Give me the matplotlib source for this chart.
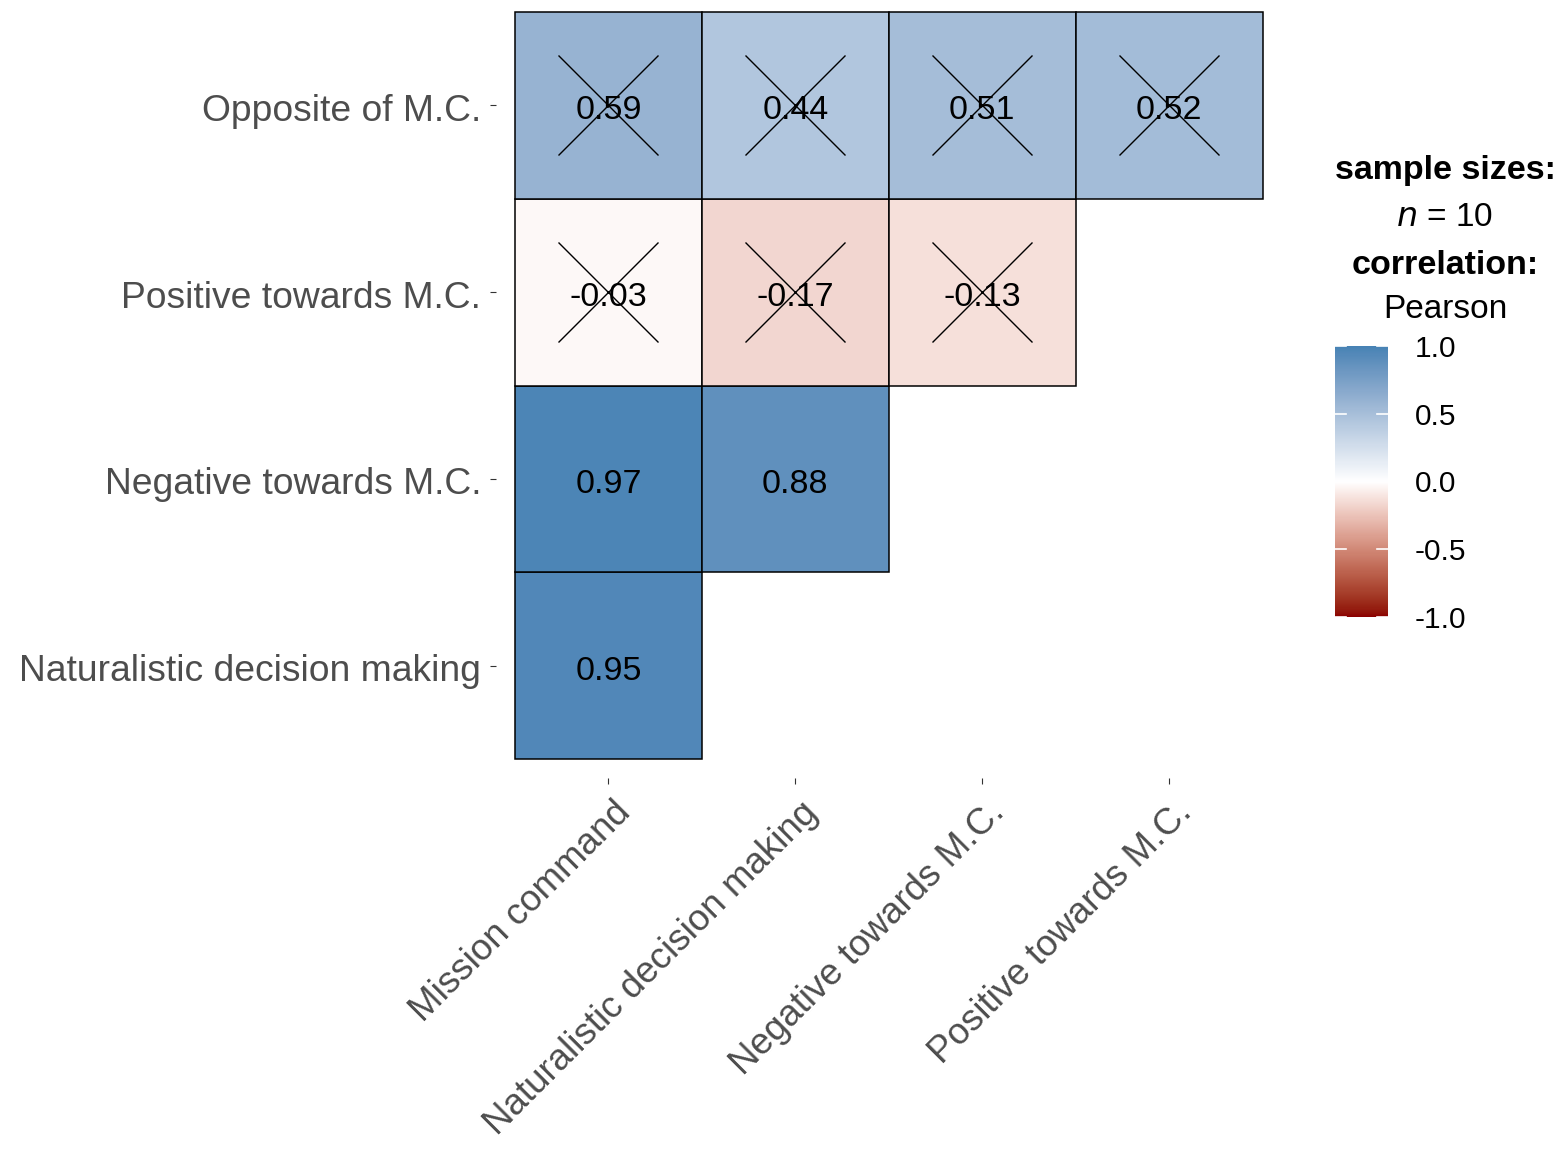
import numpy as np
import matplotlib
matplotlib.use("Agg")
import matplotlib.pyplot as plt
from matplotlib.colors import ListedColormap, Normalize, to_rgb
from matplotlib.patches import Rectangle
from matplotlib.transforms import ScaledTranslation
import matplotlib.colorbar as mcbar

plt.rcParams['font.family'] = ['Liberation Sans', 'DejaVu Sans']

# ---- data ----
x_labels = ["Mission command", "Naturalistic decision making",
            "Negative towards M.C.", "Positive towards M.C."]
y_labels = ["Naturalistic decision making", "Negative towards M.C.",
            "Positive towards M.C.", "Opposite of M.C."]
# rows (bottom->top): values per column
row_ndm = [0.95]
row_neg = [0.97, 0.88]
row_pos = [-0.03, -0.17, -0.13]
row_opp = [0.59, 0.44, 0.51, 0.52]
# non-significant (crossed) flags
cross_ndm = [False]
cross_neg = [False, False]
cross_pos = [True, True, True]
cross_opp = [True, True, True, True]
cbar_ticks = [-1.0, -0.5, 0.0, 0.5, 1.0]
legend_lines = ["sample sizes:", "n = 10", "correlation:", "Pearson"]

rows = [row_ndm, row_neg, row_pos, row_opp]
crosses = [cross_ndm, cross_neg, cross_pos, cross_opp]


# ---- Lab-space diverging gradient (like scale_fill_gradient2) ----
def srgb_to_lin(c):
    c = np.asarray(c, float)
    return np.where(c <= 0.04045, c / 12.92, ((c + 0.055) / 1.055) ** 2.4)


def lin_to_srgb(c):
    c = np.asarray(c, float)
    return np.where(c <= 0.0031308, 12.92 * c, 1.055 * np.power(np.clip(c, 0, None), 1 / 2.4) - 0.055)


M = np.array([[0.4124564, 0.3575761, 0.1804375],
              [0.2126729, 0.7151522, 0.0721750],
              [0.0193339, 0.1191920, 0.9503041]])
Minv = np.linalg.inv(M)
WHITE = np.array([0.95047, 1.0, 1.08883])


def f(t):
    d = 6 / 29
    return np.where(t > d ** 3, np.cbrt(t), t / (3 * d * d) + 4 / 29)


def finv(t):
    d = 6 / 29
    return np.where(t > d, t ** 3, 3 * d * d * (t - 4 / 29))


def rgb_to_lab(rgb):
    xyz = M @ srgb_to_lin(rgb) / WHITE
    fx, fy, fz = f(xyz)
    return np.array([116 * fy - 16, 500 * (fx - fy), 200 * (fy - fz)])


def lab_to_rgb(lab):
    L, a, b = lab
    fy = (L + 16) / 116
    fx = fy + a / 500
    fz = fy - b / 200
    xyz = np.array([finv(fx), finv(fy), finv(fz)]) * WHITE
    return np.clip(lin_to_srgb(Minv @ xyz), 0, 1)


low, mid, high = (rgb_to_lab(to_rgb(c)) for c in ("#8B0000", "#FFFFFF", "#4682B4"))
N = 256
cols = []
for v in np.linspace(-1, 1, N):
    if v < 0:
        t = v + 1
        lab = low + (mid - low) * t
    else:
        lab = mid + (high - mid) * v
    cols.append(lab_to_rgb(lab))
cmap = ListedColormap(cols)
norm = Normalize(-1, 1)

W, H = 1563, 1150
fig = plt.figure(figsize=(W / 100, H / 100), dpi=100)
ax = fig.add_axes([496.3 / W, (H - 777.7) / H, 785 / W, 784.4 / H])
ax.set_xlim(0.4, 4.6)
ax.set_ylim(0.4, 4.6)
for s in ax.spines.values():
    s.set_visible(False)

for ri, (vals, crs) in enumerate(zip(rows, crosses)):
    y = ri + 1
    for ci, (v, c) in enumerate(zip(vals, crs)):
        x = ci + 1
        ax.add_patch(Rectangle((x - 0.5, y - 0.5), 1, 1, facecolor=cmap(norm(v)),
                               edgecolor="black", linewidth=1.1, zorder=1))
        ax.text(x, y - 0.01, f"{v:.2f}", ha="center", va="center_baseline", fontsize=24.5,
                color="black", zorder=3)
        if c:
            ax.scatter([x], [y], marker="x", s=72 ** 2, color="black",
                       linewidths=1.0, zorder=4)

ax.set_xticks(range(1, len(x_labels) + 1))
ax.set_xticklabels(x_labels, rotation=45, ha="right", va="top",
                   rotation_mode="anchor")
ax.set_yticks(range(1, len(y_labels) + 1))
ax.set_yticklabels(y_labels, va="center_baseline")
ax.tick_params(axis="both", length=4, width=0.8, color="#333333",
               labelcolor="#4D4D4D", labelsize=26.5, pad=7)
ax.tick_params(axis="y", labelsize=26.8)
off = ScaledTranslation(5 / 100, -2 / 100, fig.dpi_scale_trans)
for lbl in ax.get_xticklabels():
    lbl.set_transform(lbl.get_transform() + off)
offy = ScaledTranslation(0, -2 / 100, fig.dpi_scale_trans)
for lbl in ax.get_yticklabels():
    lbl.set_transform(lbl.get_transform() + offy)

# ---- colorbar ----
cax = fig.add_axes([1335 / W, (H - 617) / H, 53 / W, 271 / H])
cb = mcbar.ColorbarBase(cax, cmap=cmap, norm=norm, orientation="vertical")
cb.outline.set_visible(False)
cb.set_ticks(cbar_ticks)
cb.set_ticklabels([f"{t:.1f}" for t in cbar_ticks])
cax.tick_params(length=0, labelsize=21.5, pad=19, labelcolor="black")
for t in cbar_ticks:
    cax.plot([0, 0.2], [t, t], color="white", lw=1.2, transform=cax.get_yaxis_transform(), clip_on=False)
    cax.plot([0.8, 1.0], [t, t], color="white", lw=1.2, transform=cax.get_yaxis_transform(), clip_on=False)

cx = 1445 / W
ys = [171, 218, 266, 310]
fig.text(cx, 1 - ys[0] / H, legend_lines[0], ha="center", va="center",
         fontsize=24.5, fontweight="bold")
fig.text(cx, 1 - ys[1] / H, r"$\it{n}$ = 10", ha="center", va="center",
         fontsize=24)
fig.text(cx, 1 - ys[2] / H, legend_lines[2], ha="center", va="center",
         fontsize=24.5, fontweight="bold")
fig.text(cx, 1 - ys[3] / H, legend_lines[3], ha="center", va="center",
         fontsize=24)

fig.savefig("out.png", dpi=100, facecolor="white")
